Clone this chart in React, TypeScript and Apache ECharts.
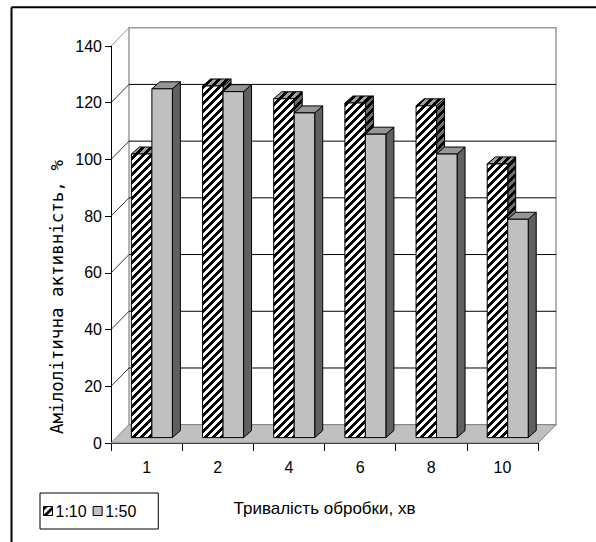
import React, { useEffect, useRef } from 'react';
import * as echarts from 'echarts';

const categories = ['1', '2', '4', '6', '8', '10'];
const ratio1to10 = [100, 124, 119.5, 118, 117, 96.5];
const ratio1to50 = [123, 122, 114.5, 107, 100, 77];
const seriesNames = ['1:10', '1:50'];
const yMin = 0;
const yMax = 140;
const yStep = 20;
const xTitle = 'Тривалість обробки, хв';
const yTitle = 'Амілолітична активність, %';

const SANS = "'Liberation Sans', Arial, sans-serif";
const MONO = "'DejaVu Sans Mono', monospace";

// 3D projection offsets (pixels)
const DX = 18, DY = -18.3; // wall depth
const BX = 5.3, BY = -5.4; // bar plane offset from front
const BW = 20.5; // bar front width
const BDX = 8, BDY = -7; // bar depth

function stripePattern(bg: string, fg: string) {
  const P = 8;
  const c = document.createElement('canvas');
  c.width = P;
  c.height = P;
  const ctx = c.getContext('2d')!;
  const img = ctx.createImageData(P, P);
  const parse = (h: string) => [parseInt(h.slice(1, 3), 16), parseInt(h.slice(3, 5), 16), parseInt(h.slice(5, 7), 16)];
  const b = parse(bg), f = parse(fg);
  for (let y = 0; y < P; y++) {
    for (let x = 0; x < P; x++) {
      const on = (x + y) % P < 4;
      const col = on ? f : b;
      const k = (y * P + x) * 4;
      img.data[k] = col[0];
      img.data[k + 1] = col[1];
      img.data[k + 2] = col[2];
      img.data[k + 3] = 255;
    }
  }
  ctx.putImageData(img, 0, 0);
  return { image: c.toDataURL(), repeat: 'repeat', imageWidth: P, imageHeight: P } as any;
}

export default function App() {
  const ref = useRef<HTMLDivElement>(null);
  useEffect(() => {
    if (!ref.current) return;
    const chart = echarts.init(ref.current, undefined, { renderer: 'svg' });

    const hatchFront = stripePattern('#ffffff', '#000000');
    const hatchTop = stripePattern('#a0a0a0', '#000000');
    const hatchSide = stripePattern('#707070', '#000000');

    const faces = [
      { front: hatchFront, top: hatchTop, side: hatchSide },
      { front: '#c0c0c0', top: '#969696', side: '#606060' },
    ];

    const makeBarRender = (s: number) => (params: any, api: any) => {
      const i = api.value(0);
      const v = api.value(1);
      const base = api.coord([i, 0]);
      const top = api.coord([i, v]);
      const xL = base[0] + BX + (s === 0 ? -BW : 0);
      const xR = xL + BW;
      const yB = base[1] + BY;
      const yT = top[1] + BY;
      const st = { stroke: '#000', lineWidth: 1 };
      return {
        type: 'group',
        children: [
          { type: 'polygon', shape: { points: [[xR, yT], [xR, yB], [xR + BDX, yB + BDY], [xR + BDX, yT + BDY]] }, style: { ...st, fill: faces[s].side } },
          { type: 'polygon', shape: { points: [[xL, yT], [xR, yT], [xR + BDX, yT + BDY], [xL + BDX, yT + BDY]] }, style: { ...st, fill: faces[s].top } },
          { type: 'rect', shape: { x: xL, y: yT, width: BW, height: yB - yT }, style: { ...st, fill: faces[s].front } },
        ],
      };
    };

    const ticks: number[] = [];
    for (let v = yMin; v <= yMax; v += yStep) ticks.push(v);

    const bgRender = (params: any, api: any) => {
      const cs = params.coordSys;
      const x0 = cs.x, x1 = cs.x + cs.width;
      const yOf = (v: number) => api.coord([0, v])[1];
      const y0 = yOf(yMin), yT = yOf(yMax);
      const children: any[] = [];
      children.push({
        type: 'polygon',
        shape: { points: [[x0 + DX, yT + DY], [x1 + DX, yT + DY], [x1 + DX, y0 + DY], [x0 + DX, y0 + DY]] },
        style: { fill: '#fff', stroke: '#9a9a9a', lineWidth: 1.5 },
      });
      children.push({
        type: 'polygon',
        shape: { points: [[x0, y0], [x1, y0], [x1 + DX, y0 + DY], [x0 + DX, y0 + DY]] },
        style: { fill: '#c0c0c0', stroke: '#808080', lineWidth: 1 },
      });
      ticks.forEach((v) => {
        const y = yOf(v);
        const edge = v === yMin || v === yMax;
        children.push({
          type: 'line',
          shape: { x1: x0, y1: y, x2: x0 + DX, y2: y + DY },
          style: { stroke: edge ? '#9a9a9a' : '#333', lineWidth: 1 },
        });
        if (!edge) {
          children.push({
            type: 'line',
            shape: { x1: x0 + DX, y1: y + DY, x2: x1 + DX, y2: y + DY },
            style: { stroke: '#000', lineWidth: 1 },
          });
        }
      });
      return { type: 'group', children };
    };

    chart.setOption({
      animation: false,
      grid: { left: 111, top: 46, width: 427, height: 397, containLabel: false },
      legend: {
        data: seriesNames,
        left: 40,
        top: 493,
        orient: 'horizontal',
        icon: 'rect',
        itemWidth: 9,
        itemHeight: 9,
        itemGap: 6,
        padding: [10, 22, 10, 3],
        borderColor: '#000',
        borderWidth: 1,
        itemStyle: { borderColor: '#000', borderWidth: 1 },
        textStyle: { fontSize: 16, fontFamily: SANS, color: '#000', padding: [0, 0, 0, -2] },
      },
      xAxis: {
        type: 'category',
        data: categories,
        boundaryGap: true,
        axisLine: { show: true, lineStyle: { color: '#000', width: 1 } },
        axisTick: { show: true, length: 8, lineStyle: { color: '#000' } },
        axisLabel: { margin: 16, fontSize: 16, fontFamily: SANS, color: '#000' },
        splitLine: { show: false },
        name: xTitle,
        nameLocation: 'middle',
        nameGap: 57,
        nameTextStyle: { fontSize: 17, fontFamily: SANS, color: '#000' },
      },
      yAxis: {
        type: 'value',
        min: yMin,
        max: yMax,
        interval: yStep,
        axisLine: { show: true, lineStyle: { color: '#000', width: 1 } },
        axisTick: { show: true, length: 6, lineStyle: { color: '#000' } },
        axisLabel: { margin: 9, fontSize: 16, fontFamily: SANS, color: '#000' },
        splitLine: { show: false },
      },
      graphic: [
        {
          type: 'line',
          shape: { x1: 11.5, y1: 7.3, x2: 700, y2: 7.3 },
          style: { stroke: '#000', lineWidth: 2 },
          silent: true,
          z: 100,
        },
        {
          type: 'line',
          shape: { x1: 11.5, y1: 7.3, x2: 11.5, y2: 700 },
          style: { stroke: '#000', lineWidth: 2 },
          silent: true,
          z: 100,
        },
        {
          type: 'text',
          x: 57,
          y: 297,
          rotation: Math.PI / 2,
          silent: true,
          style: {
            text: yTitle,
            fontSize: 17.5,
            fontFamily: MONO,
            fill: '#000',
            align: 'center',
            verticalAlign: 'middle',
          },
        },
      ],
      series: [
        {
          type: 'custom',
          name: 'bg',
          renderItem: bgRender,
          data: [[0, 0]],
          silent: true,
          clip: false,
          z: 1,
        },
        {
          type: 'custom',
          name: seriesNames[0],
          renderItem: makeBarRender(0),
          data: ratio1to10.map((v, i) => [i, v]),
          itemStyle: { color: hatchFront, borderColor: '#000', borderWidth: 1 },
          clip: false,
          z: 2,
        },
        {
          type: 'custom',
          name: seriesNames[1],
          renderItem: makeBarRender(1),
          data: ratio1to50.map((v, i) => [i, v]),
          itemStyle: { color: '#c0c0c0', borderColor: '#000', borderWidth: 1 },
          clip: false,
          z: 3,
        },
      ],
    });
    return () => chart.dispose();
  }, []);
  return <div ref={ref} style={{ position: 'fixed', left: 0, top: 0, width: 596, height: 542, background: '#fff' }} />;
}
